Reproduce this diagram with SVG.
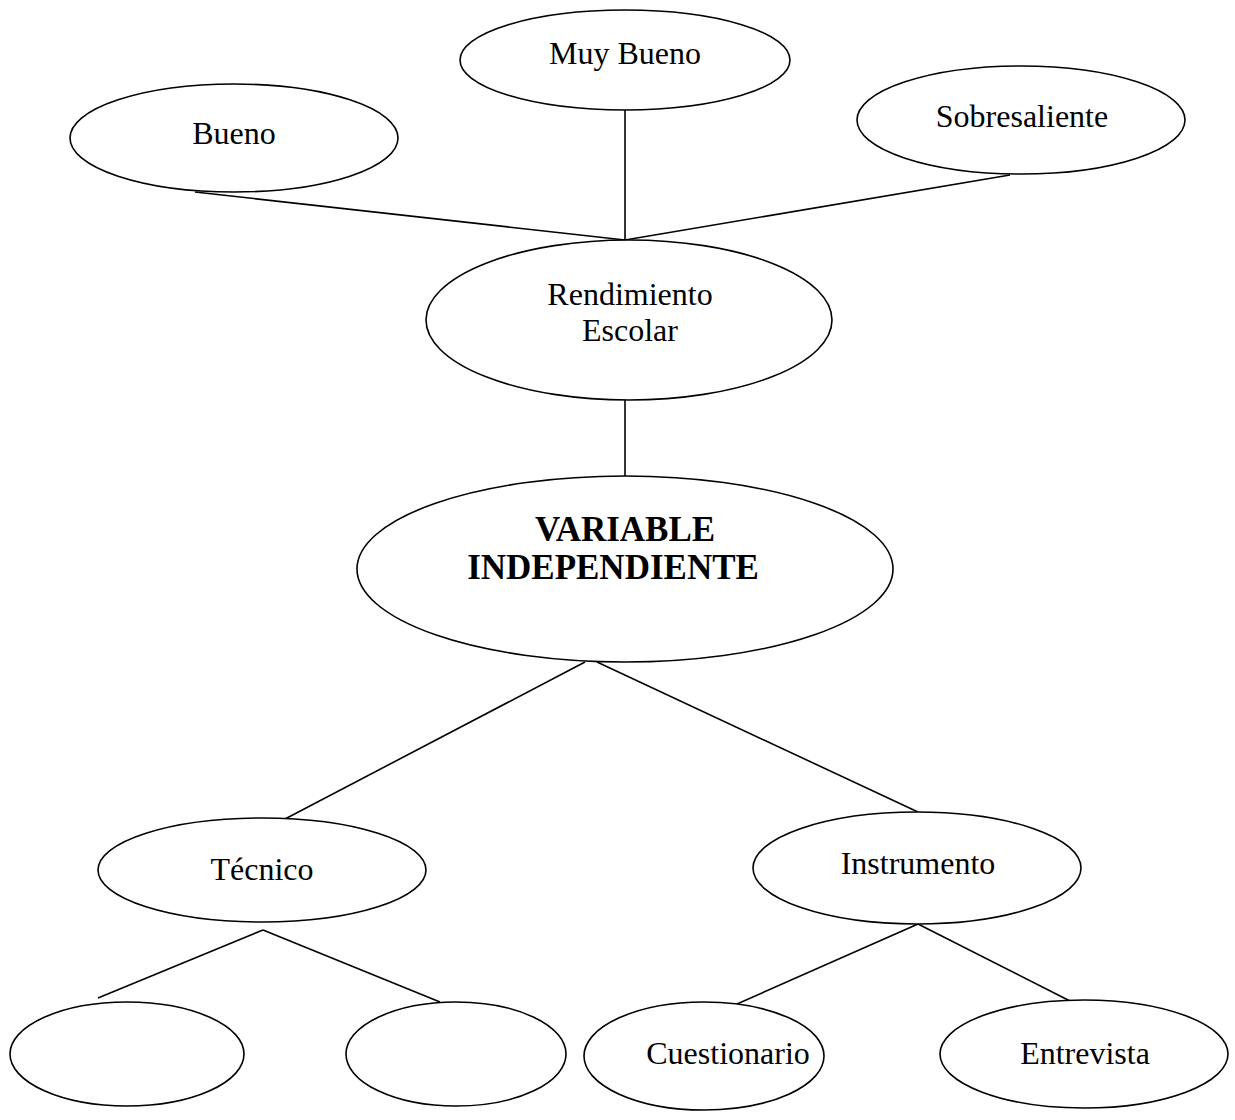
<svg xmlns="http://www.w3.org/2000/svg" width="1235" height="1120" viewBox="0 0 1235 1120">
<style>
.n{fill:#fff;stroke:#000;stroke-width:1.6}
.c line{stroke:#000;stroke-width:1.6}
text{font-family:"Liberation Serif","Times New Roman",serif;font-size:32px;fill:#000;text-anchor:middle}
.b{font-weight:bold;font-size:35px}
</style>
<rect width="1235" height="1120" fill="#fff"/>
<g id="connectors" class="c">
<line x1="195" y1="192" x2="625" y2="240"/>
<line x1="625" y1="110" x2="625" y2="240"/>
<line x1="1010" y1="175" x2="625" y2="240"/>
<line x1="625" y1="398" x2="625" y2="476"/>
<line x1="585" y1="662" x2="285" y2="819"/>
<line x1="597" y1="662" x2="918" y2="812"/>
<line x1="263" y1="930" x2="98" y2="998"/>
<line x1="263" y1="930" x2="440" y2="1002"/>
<line x1="918" y1="924" x2="737" y2="1004"/>
<line x1="918" y1="924" x2="1070" y2="1001"/>
</g>
<g id="muy-bueno"><ellipse class="n" cx="625" cy="60" rx="165" ry="50"/><text x="625" y="64">Muy Bueno</text></g>
<g id="bueno"><ellipse class="n" cx="234" cy="138" rx="164" ry="54"/><text x="234" y="144">Bueno</text></g>
<g id="sobresaliente"><ellipse class="n" cx="1021" cy="120" rx="164" ry="54"/><text x="1022" y="127">Sobresaliente</text></g>
<g id="rendimiento"><ellipse class="n" cx="629" cy="320" rx="203" ry="80"/><text x="630" y="305">Rendimiento</text><text x="630" y="341">Escolar</text></g>
<g id="variable"><ellipse class="n" cx="625" cy="569" rx="268" ry="93"/><text class="b" x="625" y="541">VARIABLE</text><text class="b" x="613" y="579">INDEPENDIENTE</text></g>
<g id="tecnico"><ellipse class="n" cx="262" cy="870" rx="164" ry="52"/><text x="262" y="880">Técnico</text></g>
<g id="instrumento"><ellipse class="n" cx="917" cy="868" rx="164" ry="56"/><text x="918" y="874">Instrumento</text></g>
<g id="vacio-1"><ellipse class="n" cx="127" cy="1054" rx="117" ry="52"/></g>
<g id="vacio-2"><ellipse class="n" cx="456" cy="1054" rx="110" ry="52"/></g>
<g id="cuestionario"><ellipse class="n" cx="704" cy="1056" rx="120" ry="54"/><text x="728" y="1064">Cuestionario</text></g>
<g id="entrevista"><ellipse class="n" cx="1084" cy="1054" rx="144" ry="54"/><text x="1085" y="1064">Entrevista</text></g>
</svg>
